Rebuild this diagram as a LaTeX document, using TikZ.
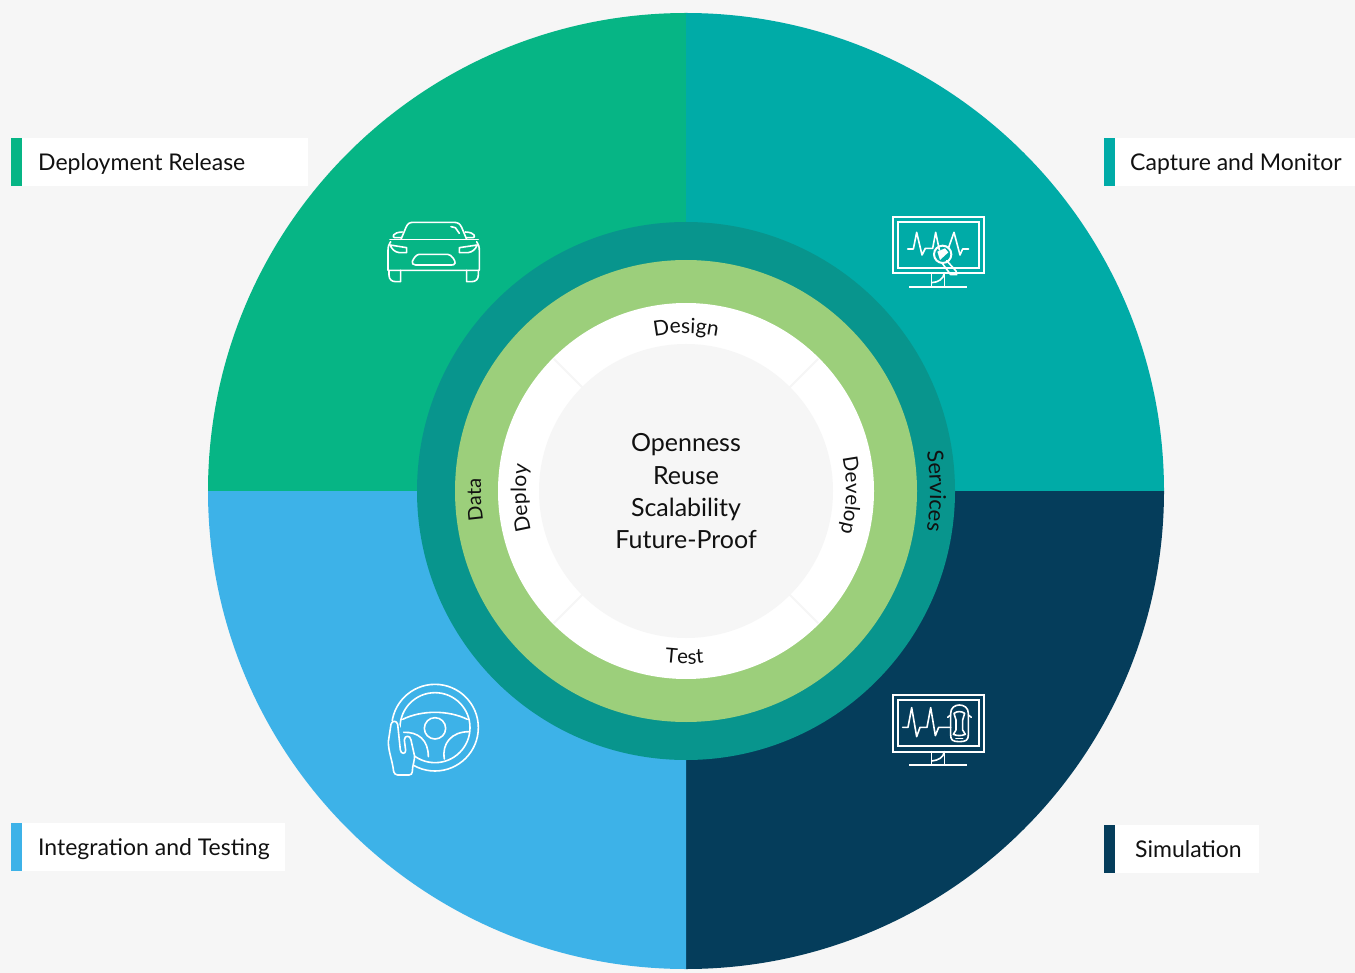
\documentclass[tikz,border=0pt]{standalone}
\usepackage{fontspec}
\setmainfont{Lato}
\usetikzlibrary{decorations.text}
\definecolor{bgc}{HTML}{F6F6F6}
\definecolor{gr}{HTML}{06B585}
\definecolor{te}{HTML}{00ABA7}
\definecolor{na}{HTML}{053D5B}
\definecolor{bl}{HTML}{3DB2E8}
\definecolor{ri}{HTML}{08958D}
\definecolor{lg}{HTML}{9CCF7B}
\definecolor{tx}{HTML}{111111}
\tikzset{
 lbl/.style={font=\fontsize{23}{23}\selectfont,text=tx,anchor=base west,inner sep=0pt},
 ctr/.style={font=\fontsize{25}{25}\selectfont,text=tx,inner sep=0pt,anchor=base},
 whitebox/.style={fill=white,draw=none},
 ico/.style={draw=white,line width=1.6pt,line join=round,line cap=round,fill=none},
 icob/.style={draw=white,line width=2pt,line join=miter,line cap=butt,fill=none},
 zoomed/.style={x=1/3*1pt,y=-1/3*1pt},
}
\newcommand{\arctext}[5]{%
 \path[decorate,decoration={text along path,text align=center,text={|\fontsize{#4}{#4}\selectfont\color{tx}|#5}}] (#2:#1) arc[start angle=#2,end angle=#3,radius=#1];}
\begin{document}
\begin{tikzpicture}[x=1pt,y=-1pt]
\useasboundingbox (0,0) rectangle (1355,973);
\fill[bgc] (0,0) rectangle (1355,973);
% quadrants
\begin{scope}[shift={(686,491)},y=1pt]
\fill[gr] (0,0) -- (-478,0) arc[start angle=180,end angle=90,radius=478] -- cycle;
\fill[te] (0,0) -- (0,478) arc[start angle=90,end angle=0,radius=478] -- cycle;
\fill[na] (0,0) -- (478,0) arc[start angle=0,end angle=-90,radius=478] -- cycle;
\fill[bl] (0,0) -- (0,-478) arc[start angle=270,end angle=180,radius=478] -- cycle;
\fill[ri] (0,0) circle[radius=269];
\fill[lg] (0,0) circle[radius=231];
\fill[white] (0,0) circle[radius=188];
\fill[bgc] (0,0) circle[radius=147];
\foreach \a in {45,135,225,315}
 \draw[bgc,line width=2pt] (\a:146) -- (\a:187);
\arctext{158}{110}{70}{21}{Design}
\arctext{173}{249.5}{289.5}{20.5}{Test}
\arctext{160}{202.5}{162.5}{21}{Deploy}
\arctext{160}{23.5}{-26.5}{20.5}{Develop}
\arctext{205}{199.5}{165.5}{20}{Data}
\arctext{244}{20}{-20}{22}{Services}
\end{scope}
% centre
\node[ctr] (c1) at (686,452) {Openness};
\node[ctr] (c2) at (686,484) {Reuse};
\node[ctr] (c3) at (686,516) {Scalability};
\node[ctr] (c4) at (686,548) {Future-Proof};
% labels
\fill[gr] (11,138) rectangle (22,186);
\fill[whitebox] (22,138) rectangle (308,186);
\node[lbl] (l1) at (38,170.5) {Deployment Release};
\fill[te] (1104,138) rectangle (1115,186);
\fill[whitebox] (1115,138) rectangle (1355,186);
\node[lbl] (l2) at (1130,170.5) {Capture and Monitor};
\fill[bl] (11,823) rectangle (22,871);
\fill[whitebox] (22,823) rectangle (285,871);
\node[lbl] (l3) at (38,855.5) {Integration and Testing};
\fill[na] (1104,825) rectangle (1115,873);
\fill[whitebox] (1115,825) rectangle (1259,873);
\node[lbl] (l4) at (1135,857.5) {Simulation};
% car icon
\begin{scope}[shift={(370,200)},zoomed]
\draw[ico] (93,118) -- (108,82) .. controls (113,71) and (118,67) .. (130,67) -- (252,67) .. controls (264,67) and (270,72) .. (275,82) -- (290,118);
\draw[ico] (60,118) -- (325,118);
\draw[ico] (93,113) -- (74,113) .. controls (66,113) and (66,97) .. (97,96);
\draw[ico] (290,113) -- (309,113) .. controls (317,113) and (317,97) .. (286,96);
\draw[ico] (62,125) .. controls (56,133) and (54,140) .. (54,152) -- (54,211) -- (328,211) -- (328,152) .. controls (328,140) and (326,133) .. (320,125);
\draw[ico] (57,211) -- (57,225) .. controls (57,238) and (65,245) .. (77,245) -- (92,245) -- (92,211);
\draw[ico] (325,211) -- (325,225) .. controls (325,238) and (317,245) .. (305,245) -- (290,245) -- (290,211);
\draw[ico] (60,135) -- (110,143) -- (110,158) -- (88,158) .. controls (74,156) and (66,148) .. (60,135);
\draw[ico] (322,135) -- (268,143) -- (268,158) -- (294,158) .. controls (308,156) and (316,148) .. (322,135);
\draw[ico] (148,163) -- (233,163) .. controls (245,163) and (258,185) .. (255,190) .. controls (253,194) and (250,195) .. (245,195) -- (137,195) .. controls (130,195) and (124,190) .. (127,184) .. controls (132,173) and (140,163) .. (148,163) -- cycle;
\draw[ico] (243,80) -- (256,83) -- (268,100);
\end{scope}
% capture monitor
\begin{scope}[shift={(880,205)},zoomed]
\draw[icob] (38,35) rectangle (312,205);
\draw[icob] (54,52) rectangle (296,188);
\draw[ico] (155,205) -- (155,245) (193,205) -- (193,245);
\draw[icob] (88,245) -- (262,245);
\draw[ico] (155,233) .. controls (175,232) and (190,222) .. (193,205);
\draw[ico] (83,132) -- (100,132) -- (110,82) -- (126,150) -- (136,130) -- (158,130) -- (167,82) -- (178,135);
\draw[ico] (205,130) -- (222,82) -- (240,150) -- (248,132) -- (266,132);
\draw[icob] (188,148) circle[radius=26];
\fill[white] (172,140) -- (195,130) -- (205,142) -- (180,165) -- cycle;
\draw[ico] (186,174) -- (212,209) -- (230,209) -- (228,198) -- (200,167);
\end{scope}
% wheel
\begin{scope}[shift={(375,675)},zoomed]
\draw[ico] (180,158) circle[radius=130];
\draw[ico] (180,158) circle[radius=105];
\draw[ico] (180,160) circle[radius=32];
\draw[ico] (83,133) .. controls (140,105) and (220,105) .. (277,133);
\draw[ico] (85,172) .. controls (130,170) and (160,195) .. (160,245);
\draw[ico] (208,252) .. controls (200,205) and (230,170) .. (282,170);
\fill[bl] (48,138) -- (68,140) -- (118,240) -- (112,300) -- (60,300) -- (40,200) -- cycle;
\draw[ico] (40,200) -- (48,148) .. controls (50,136) and (66,136) .. (68,148) -- (76,225) .. controls (78,238) and (92,238) .. (92,226) -- (88,195) .. controls (88,180) and (106,180) .. (108,195) -- (118,240) .. controls (120,258) and (112,270) .. (112,290) .. controls (112,296) and (108,300) .. (102,300) -- (68,300) .. controls (62,300) and (58,296) .. (56,290) .. controls (52,255) and (40,230) .. (40,200) -- cycle;
\end{scope}
% simulation monitor
\begin{scope}[shift={(880,685)},zoomed]
\draw[icob] (38,30) rectangle (312,200);
\draw[icob] (54,46) rectangle (296,184);
\draw[ico] (155,200) -- (155,238) (193,200) -- (193,238);
\draw[icob] (88,240) -- (260,240);
\draw[ico] (155,228) .. controls (175,226) and (190,218) .. (193,200);
\draw[ico] (68,127) -- (84,127) -- (95,68) -- (110,155) -- (120,127) -- (141,127) -- (152,68) -- (166,152) -- (176,127) -- (212,127);
\draw[ico] (212,85) .. controls (212,68) and (225,60) .. (238,60) .. controls (252,60) and (265,68) .. (265,85) -- (265,150) .. controls (265,165) and (258,170) .. (238,170) .. controls (218,170) and (212,165) .. (212,150) -- cycle;
\draw[ico] (222,85) .. controls (232,78) and (244,78) .. (254,85) -- (248,105) -- (248,135) -- (256,148) .. controls (244,153) and (232,153) .. (220,148) -- (228,135) -- (228,105) -- cycle;
\draw[ico] (212,90) -- (203,97) (265,90) -- (274,97);
\draw[ico] (228,160) -- (248,160);
\end{scope}
\end{tikzpicture}
\end{document}
